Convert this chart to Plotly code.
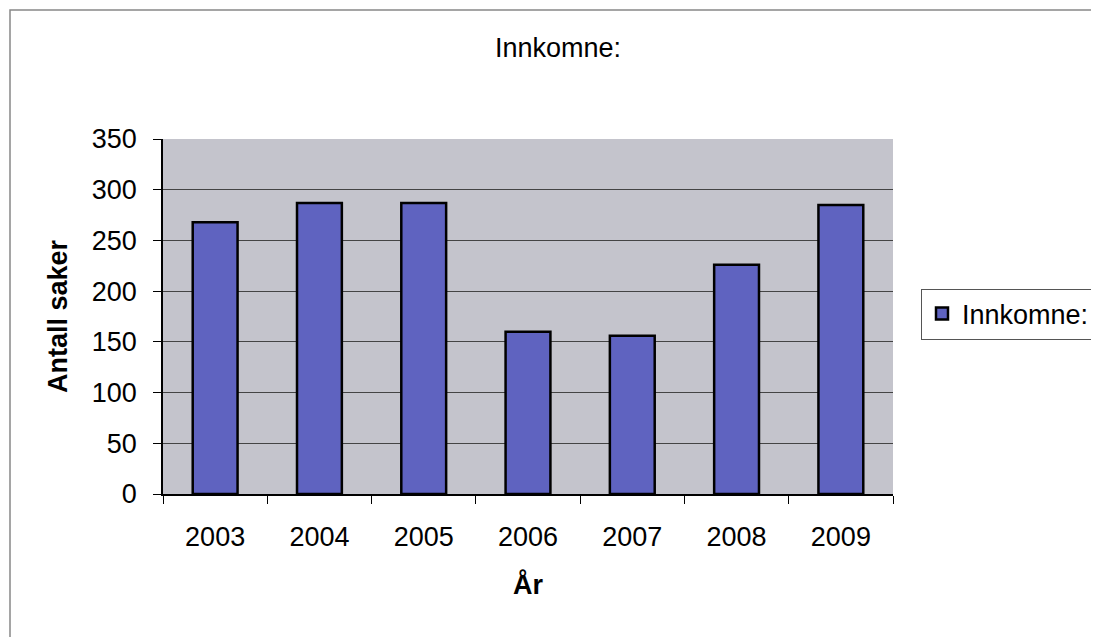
import plotly.graph_objects as go

years = ["2003", "2004", "2005", "2006", "2007", "2008", "2009"]
innkomne = [268, 287, 287, 160, 156, 226, 285]
series_name = "Innkomne:"

fig = go.Figure()
fig.add_trace(go.Bar(
    x=years, y=innkomne, name=series_name,
    marker=dict(color="#5F63C0", line=dict(color="#000000", width=2.5)),
))

fig.update_layout(
    width=1099, height=637,
    margin=dict(l=155, r=214, t=131, b=151),
    paper_bgcolor="white",
    plot_bgcolor="#C4C4CC",
    font=dict(family="Liberation Sans, Arial", size=27, color="black"),
    title=dict(text="Innkomne:", x=550 / 1099, xanchor="center",
               y=1 - 40 / 637, yanchor="middle", font=dict(size=27)),
    bargap=0.57,
    showlegend=True,
    legend=dict(x=(913 - 155) / 730, xanchor="left", y=0.507, yanchor="middle",
                bgcolor="white", bordercolor="#555555", borderwidth=1,
                font=dict(size=27)),
    shapes=[dict(type="rect", xref="paper", yref="paper",
                 x0=-153 / 730, x1=1000 / 730, y0=-160 / 355, y1=(494 - 10) / 355,
                 line=dict(color="#888888", width=1.5), layer="below")],
)
fig.update_xaxes(
    showline=True, linecolor="black", linewidth=1.5,
    ticks="outside", ticklen=8, tickcolor="black", tickson="boundaries",
    ticklabelstandoff=18,
    title=dict(text="<b>År</b>", standoff=24, font=dict(size=27)),
    showgrid=False,
)
fig.update_yaxes(
    range=[0, 350], dtick=50,
    showline=True, linecolor="black", linewidth=1.5,
    ticks="outside", ticklen=8, tickcolor="black",
    ticklabelstandoff=11,
    gridcolor="#444444", gridwidth=1,
    title=dict(text="<b>Antall saker</b>", standoff=16, font=dict(size=27)),
    zeroline=False,
)

fig.write_html("out.html")
